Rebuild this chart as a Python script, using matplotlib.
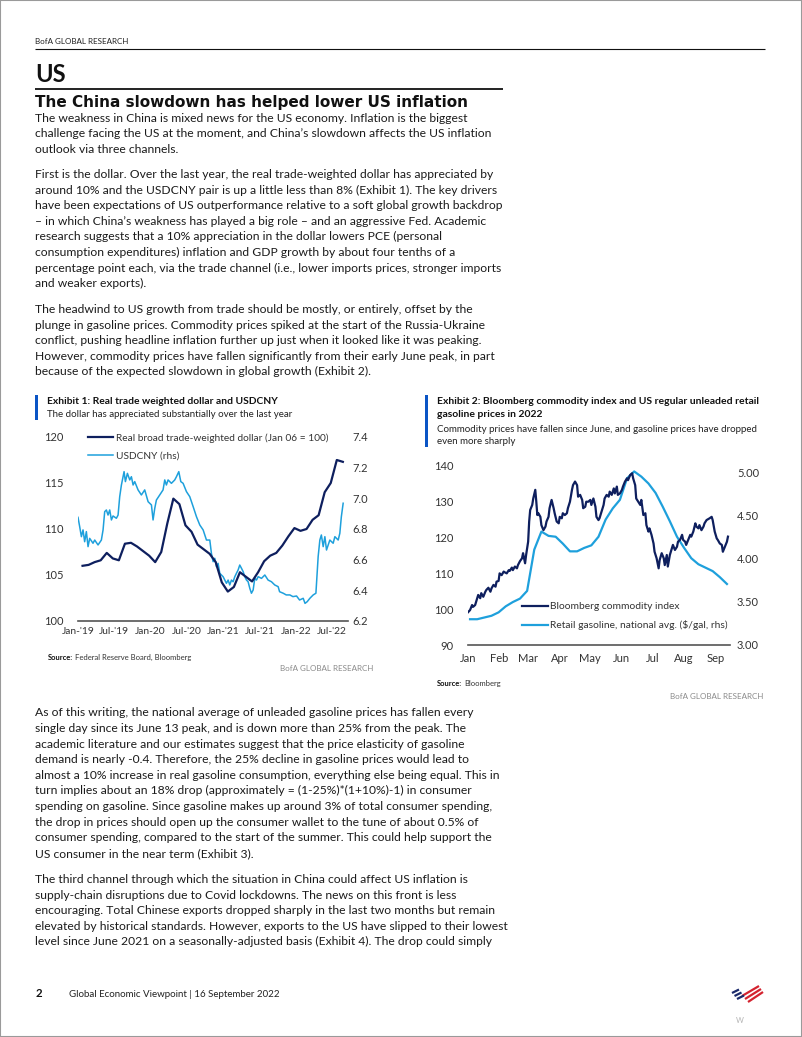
import datetime
import numpy as np
import matplotlib.pyplot as plt
from matplotlib.lines import Line2D
from matplotlib.patches import Rectangle
from matplotlib.ticker import FormatStrFormatter

# page size in pixels
W, H = 802, 1037

# ---------------- Exhibit 1 data ----------------
ex1_xlabels = ["Jan-'19", "Jul-'19", "Jan-20", "Jul-'20", "Jan-'21", "Jul-'21", "Jan-22", "Jul-'22"]
# Real broad trade-weighted dollar (Jan 06 = 100), monthly Jan-19 .. Aug-22
dollar_idx = [106.0, 106.1, 106.4, 106.6, 107.4, 106.8, 106.6, 108.4, 108.5, 108.1, 107.6, 107.1,
              106.4, 107.5, 110.6, 113.3, 112.7, 110.4, 109.7, 108.3, 107.8, 107.3, 106.4, 104.2,
              103.2, 103.7, 105.3, 104.8, 104.3, 105.3, 106.5, 107.1, 107.4, 108.2, 109.2, 110.1,
              109.8, 110.0, 111.0, 111.5, 114.0, 115.0, 117.5, 117.3]
# USDCNY (rhs), time in months since Jan-19
cny_t = [0.0, 0.28, 0.56, 0.83, 1.1, 1.38, 1.66, 1.93, 2.48, 2.76, 3.31, 3.86, 4.14, 4.41, 4.69,
         4.96, 5.24, 5.52, 5.79, 6.34, 6.62, 6.89, 7.17, 7.61, 7.83, 8.16, 8.55, 8.82, 9.1, 9.37,
         9.92, 10.47, 11.02, 11.58, 12.13, 12.4, 12.68, 12.95, 13.5, 14.05, 14.33, 14.6, 14.88,
         15.43, 15.98, 16.26, 16.65, 16.98, 17.36, 17.91, 18.46, 19.02, 19.57, 20.12, 20.67, 21.22,
         21.77, 22.04, 22.32, 22.59, 22.87, 23.14, 23.42, 23.97, 24.25, 24.52, 24.8, 25.07, 25.35,
         25.62, 25.9, 26.17, 26.45, 26.72, 27.0, 27.28, 27.55, 27.83, 28.1, 28.38, 28.65, 28.93,
         29.2, 29.48, 29.76, 30.31, 30.86, 31.4, 31.96, 32.5, 33.06, 33.3, 33.9, 34.4, 35.0, 35.5,
         36.1, 36.6, 37.2, 37.5, 37.86, 38.3, 38.85, 39.3, 39.67, 39.95, 40.2, 40.5, 40.78, 41.05,
         41.33, 41.6, 42.15, 42.43, 42.98, 43.25, 43.5, 43.8]
cny = [6.876, 6.815, 6.750, 6.794, 6.717, 6.783, 6.685, 6.739, 6.707, 6.728, 6.696, 6.728, 6.794,
       6.913, 6.924, 6.891, 6.924, 6.859, 6.885, 6.870, 6.891, 7.011, 7.087, 7.174, 7.109, 7.163,
       7.120, 7.141, 7.087, 7.109, 7.055, 7.022, 7.055, 6.978, 6.957, 6.859, 6.935, 6.989, 7.022,
       7.055, 7.120, 7.087, 7.120, 7.098, 7.120, 7.141, 7.174, 7.109, 7.098, 7.044, 7.011, 6.946,
       6.880, 6.826, 6.794, 6.728,
       6.728, 6.641, 6.587, 6.609, 6.554, 6.576, 6.511, 6.489, 6.467, 6.446, 6.467, 6.435, 6.467,
       6.456, 6.489, 6.511, 6.533, 6.565, 6.544, 6.522, 6.489, 6.467, 6.456, 6.413, 6.381, 6.402,
       6.478, 6.467, 6.489, 6.478, 6.500, 6.467, 6.456, 6.435, 6.424, 6.391, 6.381, 6.370, 6.370,
       6.359, 6.363, 6.337, 6.348, 6.315, 6.326, 6.348, 6.370, 6.381, 6.620, 6.728, 6.761, 6.685,
       6.750, 6.663, 6.696, 6.728, 6.707, 6.750, 6.728, 6.772, 6.880, 6.968]

# ---------------- Exhibit 2 data ----------------
months_2022 = ['Jan', 'Feb', 'Mar', 'Apr', 'May', 'Jun', 'Jul', 'Aug', 'Sep']
# Bloomberg commodity index (lhs), by day of year 2022
bcom_doy = [1, 3, 5, 6, 8, 11, 13, 14, 16, 18, 19, 21, 23, 24, 26, 28, 29, 31, 32, 34, 36, 37, 39,
            41, 42, 44, 45, 47, 49, 50, 52, 54, 55, 57, 58, 60, 61, 62, 64, 65, 67, 68, 69, 70, 72,
            73, 75, 77, 78, 80, 81, 83, 85, 86, 88, 90, 91, 93, 94, 96, 98, 99, 101, 103, 104, 106,
            108, 109, 111, 113, 114, 116, 117, 119, 121, 122, 124, 126, 127, 129, 130, 132, 134,
            135, 137, 139, 140, 142, 144, 145, 147, 148, 150, 152, 153, 155, 157, 158, 160, 162,
            163, 165, 166, 168, 170, 171, 173, 175, 176, 178, 179, 181, 183, 184, 186, 188, 189,
            191, 193, 194, 196, 197, 199, 201, 202, 204, 206, 207, 209, 211, 212, 214, 215, 217,
            219, 220, 222, 224, 225, 227, 228, 230, 232, 233, 235, 238, 240, 241, 243, 245, 246,
            248, 250, 251, 253, 255, 256]
bcom = [99.1, 99.7, 101.1, 100.6, 101.1, 103.9, 103.0, 104.4, 103.4, 104.8, 105.3, 105.9, 104.8,
        105.7, 106.7, 106.2, 107.6, 107.8, 109.9, 109.4, 110.4, 110.2, 109.9, 110.8, 110.6, 111.5,
        110.8, 111.8, 111.3, 112.2, 113.3, 114.1, 115.5, 112.7, 115.0, 118.7, 124.3, 127.5, 128.9,
        130.7, 133.1, 129.8, 126.1, 126.6, 125.6, 123.3, 121.9, 122.9, 124.3, 125.6, 128.0, 130.3,
        128.0, 126.6, 124.3, 123.8, 125.6, 125.2, 126.6, 126.1, 126.6, 128.0, 129.8, 133.1, 134.4,
        135.4, 134.4, 131.2, 131.7, 130.3, 128.0, 128.4, 129.8, 129.8, 130.3, 128.9, 130.7, 128.4,
        125.6, 124.7, 125.2, 127.0, 128.9, 130.7, 131.7, 131.2, 132.6, 131.7, 133.5, 132.1, 134.0,
        131.7, 132.1, 133.1, 134.0, 135.4, 136.3, 135.8, 137.2, 137.7, 136.3, 134.4, 130.7, 129.8,
        128.9, 130.3, 126.1, 126.6, 123.3, 121.5, 122.4, 120.6, 118.2, 115.9, 114.1, 111.3, 113.6,
        115.5, 114.1, 112.2, 115.0, 111.8, 115.0, 116.9, 117.8, 116.4, 117.3, 118.7, 119.2, 120.6,
        119.2, 118.7, 117.8, 119.2, 120.6, 120.1, 121.5, 123.8, 122.9, 122.4, 123.3, 121.9, 122.9,
        123.8, 124.7, 125.2, 125.6, 124.7, 121.5, 119.6, 119.2, 118.2, 117.8, 115.9, 117.3, 118.7,
        120.1]
# Retail gasoline, national avg ($/gal, rhs), weekly
gas_doy = [3, 10, 17, 24, 31, 38, 45, 52, 59, 66, 73, 80, 87, 94, 101, 108, 115, 122, 129, 136,
           143, 150, 157, 164, 171, 178, 185, 192, 199, 206, 213, 220, 227, 234, 241, 248, 255]
gas = [3.29, 3.29, 3.31, 3.33, 3.37, 3.44, 3.49, 3.53, 3.62, 4.10, 4.31, 4.26, 4.25, 4.17, 4.08,
       4.08, 4.12, 4.15, 4.25, 4.45, 4.58, 4.68, 4.93, 5.01, 4.95, 4.87, 4.76, 4.60, 4.43, 4.25,
       4.12, 4.00, 3.93, 3.89, 3.85, 3.78, 3.70]

# ---------------- body text ----------------
para1 = ["The weakness in China is mixed news for the US economy. Inflation is the biggest",
         "challenge facing the US at the moment, and China\u2019s slowdown affects the US inflation",
         "outlook via three channels."]
para2 = ["First is the dollar. Over the last year, the real trade-weighted dollar has appreciated by",
         "around 10% and the USDCNY pair is up a little less than 8% (Exhibit 1). The key drivers",
         "have been expectations of US outperformance relative to a soft global growth backdrop",
         "\u2013 in which China\u2019s weakness has played a big role \u2013 and an aggressive Fed. Academic",
         "research suggests that a 10% appreciation in the dollar lowers PCE (personal",
         "consumption expenditures) inflation and GDP growth by about four tenths of a",
         "percentage point each, via the trade channel (i.e., lower imports prices, stronger imports",
         "and weaker exports)."]
para3 = ["The headwind to US growth from trade should be mostly, or entirely, offset by the",
         "plunge in gasoline prices. Commodity prices spiked at the start of the Russia-Ukraine",
         "conflict, pushing headline inflation further up just when it looked like it was peaking.",
         "However, commodity prices have fallen significantly from their early June peak, in part",
         "because of the expected slowdown in global growth (Exhibit 2)."]
para4 = ["As of this writing, the national average of unleaded gasoline prices has fallen every",
         "single day since its June 13 peak, and is down more than 25% from the peak. The",
         "academic literature and our estimates suggest that the price elasticity of gasoline",
         "demand is nearly -0.4. Therefore, the 25% decline in gasoline prices would lead to",
         "almost a 10% increase in real gasoline consumption, everything else being equal. This in",
         "turn implies about an 18% drop (approximately = (1-25%)*(1+10%)-1) in consumer",
         "spending on gasoline. Since gasoline makes up around 3% of total consumer spending,",
         "the drop in prices should open up the consumer wallet to the tune of about 0.5% of",
         "consumer spending, compared to the start of the summer. This could help support the",
         "US consumer in the near term (Exhibit 3)."]
para5 = ["The third channel through which the situation in China could affect US inflation is",
         "supply-chain disruptions due to Covid lockdowns. The news on this front is less",
         "encouraging. Total Chinese exports dropped sharply in the last two months but remain",
         "elevated by historical standards. However, exports to the US have slipped to their lowest",
         "level since June 2021 on a seasonally-adjusted basis (Exhibit 4). The drop could simply"]

BODY = ['Lato', 'DejaVu Sans']
HEAD = ['DejaVu Sans']
NAVY = '#0e1f5e'
LIGHT = '#1ea0dc'
BAR = '#0b55c5'
INK = '#1b1b1b'
TICK = '#333333'

plt.rcParams['font.family'] = BODY

fig = plt.figure(figsize=(W / 100, H / 100), dpi=100)


def fx(x):
    return x / W


def fy(y):
    return 1 - y / H


def txt(x, y, s, size, family=BODY, weight='normal', color=INK, ha='left', va='baseline'):
    fig.text(fx(x), fy(y), s, fontsize=size, family=family, fontweight=weight,
             color=color, ha=ha, va=va)


def seg(x0, y0, x1, y1, lw, color):
    fig.add_artist(Line2D([fx(x0), fx(x1)], [fy(y0), fy(y1)], transform=fig.transFigure,
                          lw=lw, color=color, solid_capstyle='butt'))


def box(x0, y0, x1, y1, color):
    fig.add_artist(Rectangle((fx(x0), fy(y1)), (x1 - x0) / W, (y1 - y0) / H,
                             transform=fig.transFigure, color=color, lw=0))


def px_axes(x0, y0, x1, y1):
    return fig.add_axes([fx(x0), fy(y1), (x1 - x0) / W, (y1 - y0) / H])


def paragraph(lines, y0, step=15.6):
    for i, line in enumerate(lines):
        txt(35, y0 + i * step, line, 8.7)


# page frame
fig.add_artist(Rectangle((0, 0), 1, 1, transform=fig.transFigure, fill=False,
                         edgecolor='#9a9a9a', lw=1.5))

# header
txt(35, 44, 'BofA GLOBAL RESEARCH', 5.8, color='#222222')
seg(35, 48.5, 765, 48.5, 0.8, '#111111')
txt(35, 82, 'US', 17, weight='bold', color='#111111')
seg(35, 88.5, 503, 88.5, 1.3, '#111111')
txt(35, 107.5, 'The China slowdown has helped lower US inflation', 11.0, family=HEAD,
    weight='bold', color='#111111')

paragraph(para1, 121.5)
paragraph(para2, 178)
paragraph(para3, 313)
paragraph(para4, 716.5)
paragraph(para5, 883)

# ---------------- Exhibit 1 ----------------
box(35, 395, 38, 420, BAR)
txt(47, 403.5, 'Exhibit 1: Real trade weighted dollar and USDCNY', 7.35,
    weight='bold', color='#111111')
txt(47, 417, 'The dollar has appreciated substantially over the last year', 7.05,
    color='#222222')

ax = px_axes(78, 437, 348, 621)
ax2 = ax.twinx()
l_cny, = ax2.plot(cny_t, cny, color=LIGHT, lw=1.1)
l_usd, = ax.plot(np.arange(len(dollar_idx)) + 0.75, dollar_idx, color=NAVY, lw=1.6)
ax.set_zorder(ax2.get_zorder() + 1)
ax.patch.set_visible(False)
ax.set_xlim(0, 44.6)
ax.set_ylim(100, 120)
ax.set_yticks(range(100, 121, 5))
ax2.set_ylim(6.2, 7.4)
ax2.set_yticks(np.arange(6.2, 7.41, 0.2))
ax2.yaxis.set_major_formatter(FormatStrFormatter('%.1f'))
ax.set_xticks(range(0, 43, 6))
ax.set_xticklabels(ex1_xlabels)
for a in (ax, ax2):
    for s in a.spines.values():
        s.set_visible(False)
ax.spines['bottom'].set_visible(True)
ax.spines['bottom'].set_color('#555555')
ax.spines['bottom'].set_linewidth(1.2)
ax.tick_params(axis='x', length=0, labelsize=7.4, colors=TICK, pad=4)
ax.tick_params(axis='y', length=0, labelsize=8, colors=TICK, pad=10.5)
ax2.tick_params(axis='y', length=0, labelsize=8, colors=TICK, pad=3)
leg = ax.legend(handles=[l_usd, l_cny],
                labels=['Real broad trade-weighted dollar (Jan 06 = 100)', 'USDCNY (rhs)'],
                loc='upper left', bbox_to_anchor=(fx(88), fy(433.5)),
                bbox_transform=fig.transFigure, frameon=False, fontsize=7.3,
                handlelength=2.45, handletextpad=0.3, labelspacing=0.8,
                borderpad=0, borderaxespad=0)
for t in leg.get_texts():
    t.set_color(TICK)

txt(48, 660, 'Source:', 5.5, weight='bold', color='#111111')
txt(75, 660, 'Federal Reserve Board, Bloomberg', 5.5, color='#333333')
txt(373, 671, 'BofA GLOBAL RESEARCH', 5.8, color='#8a8a8a', ha='right')

# ---------------- Exhibit 2 ----------------
box(425, 395, 428, 447, BAR)
txt(437, 404, 'Exhibit 2: Bloomberg commodity index and US regular unleaded retail', 7.5,
    weight='bold', color='#111111')
txt(437, 417, 'gasoline prices in 2022', 7.5, weight='bold', color='#111111')
txt(437, 431.5, 'Commodity prices have fallen since June, and gasoline prices have dropped',
    7.05, color='#222222')
txt(437, 444.5, 'even more sharply', 7.05, color='#222222')

month_ticks = [datetime.date(2022, m, 1).timetuple().tm_yday for m in range(1, 10)]

bx = px_axes(468, 465, 730, 645)
bx2 = bx.twinx()
l_gas, = bx2.plot(gas_doy, gas, color=LIGHT, lw=1.6)
l_bcom, = bx.plot(bcom_doy, bcom, color=NAVY, lw=1.6)
bx.set_zorder(bx2.get_zorder() + 1)
bx.patch.set_visible(False)
bx.set_xlim(1, 258)
bx.set_ylim(90, 140)
bx.set_yticks(range(90, 141, 10))
bx2.set_ylim(2.99, 5.085)
bx2.set_yticks(np.arange(3.0, 5.01, 0.5))
bx2.yaxis.set_major_formatter(FormatStrFormatter('%.2f'))
bx.set_xticks(month_ticks)
bx.set_xticklabels(months_2022)
for a in (bx, bx2):
    for s in a.spines.values():
        s.set_visible(False)
bx.spines['bottom'].set_visible(True)
bx.spines['bottom'].set_color('#555555')
bx.spines['bottom'].set_linewidth(1.2)
bx.tick_params(axis='x', length=0, labelsize=8, colors=TICK, pad=6)
bx.tick_params(axis='y', length=0, labelsize=8, colors=TICK, pad=10.5)
bx2.tick_params(axis='y', length=0, labelsize=8, colors=TICK, pad=5)
leg2 = bx.legend(handles=[l_bcom, l_gas],
                 labels=['Bloomberg commodity index', 'Retail gasoline, national avg. ($/gal, rhs)'],
                 loc='upper left', bbox_to_anchor=(fx(521.5), fy(602)),
                 bbox_transform=fig.transFigure, frameon=False, fontsize=7.35,
                 handlelength=2.6, handletextpad=0.15, labelspacing=0.9,
                 borderpad=0, borderaxespad=0)
for t in leg2.get_texts():
    t.set_color(TICK)

txt(437, 686, 'Source:', 5.5, weight='bold', color='#111111')
txt(464, 686, 'Bloomberg', 5.5, color='#333333')
txt(763, 699, 'BofA GLOBAL RESEARCH', 5.8, color='#8a8a8a', ha='right')

# ---------------- footer ----------------
txt(36, 997, '2', 8.2, weight='bold', color='#111111')
txt(69, 997, 'Global Economic Viewpoint | 16 September 2022', 7.0, color='#222222')
# bank flag mark
for i in range(3):
    seg(732 + 2.5 * i, 993 + 3 * i, 739 + 2.5 * i, 989.5 + 3 * i, 1.6, '#1b2a6b')
    seg(742 + 3 * i, 996 + 3 * i, 759 + 2 * i, 986 + 3 * i, 1.6, '#d4232f')
txt(740, 1023, 'W', 5.5, color='#b5b5b5', ha='center')

fig.savefig('out.png', dpi=100)
